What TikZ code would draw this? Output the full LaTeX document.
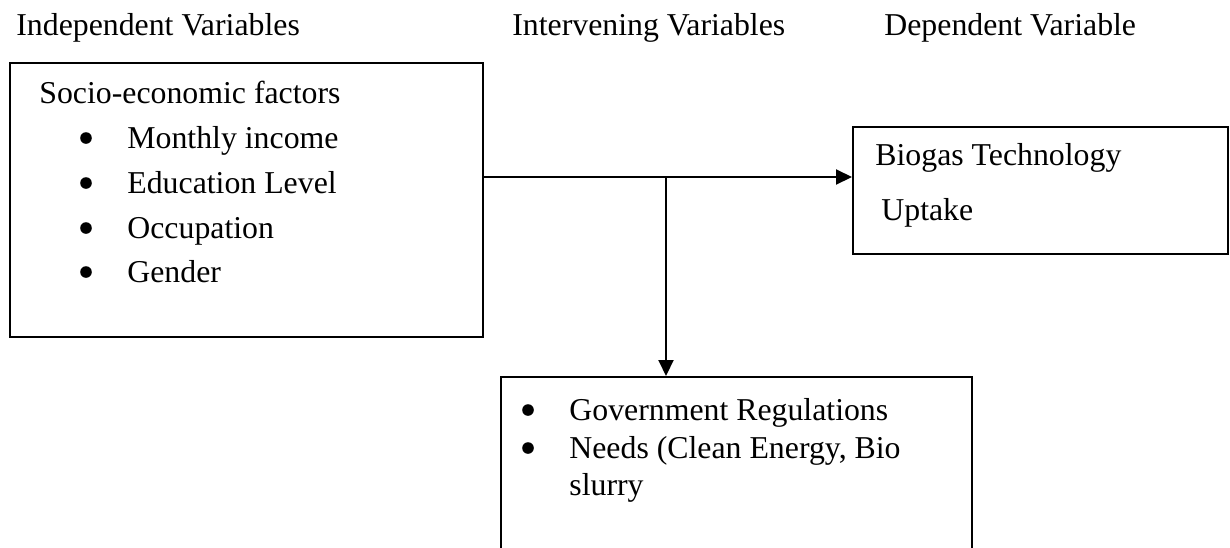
\documentclass[tikz,border=0pt]{standalone}
\usepackage{fontspec}
\setmainfont{Liberation Serif}
\usetikzlibrary{arrows.meta}
\begin{document}
\begin{tikzpicture}[x=0.5pt,y=-0.5pt,
  txt/.style={anchor=base west,inner sep=0pt,font=\fontsize{15.9}{19}\selectfont},
  boxed/.style={draw,line width=1pt,rectangle,inner sep=0pt},
  bul/.style={circle,fill,inner sep=0pt,minimum size=5.8pt},
  conn/.style={line width=1pt,-{Triangle[length=8pt,width=7.5pt]}}]
\useasboundingbox (0,0) rectangle (1230,547);
\clip (0,0) rectangle (1230,547);
% headers
\node[txt] (h1) at (16,35) {Independent Variables};
\node[txt] (h2) at (512,35) {Intervening Variables};
\node[txt] (h3) at (884,35) {Dependent Variable};
% box 1
\node[boxed,minimum width=236.5pt,minimum height=137pt] (box1) at (246.5,200) {};
\node[txt] (t10) at (39,103) {Socio-economic factors};
\node[bul] (b11) at (86,138) {};
\node[txt] (t11) at (127,148) {Monthly income};
\node[bul] (b12) at (86,183) {};
\node[txt] (t12) at (127,193) {Education Level};
\node[bul] (b13) at (86,228) {};
\node[txt] (t13) at (127,238) {Occupation};
\node[bul] (b14) at (86,272) {};
\node[txt] (t14) at (127,282) {Gender};
% box 2
\node[boxed,minimum width=187.5pt,minimum height=63.5pt] (box2) at (1040.5,190.5) {};
\node[txt] (t21) at (875,165) {Biogas Technology};
\node[txt] (t22) at (881,220) {Uptake};
% box 3
\node[boxed,minimum width=235.5pt,minimum height=100pt] (box3) at (736.5,477) {};
\node[bul] (b31) at (528,410) {};
\node[txt] (t31) at (569,420) {Government Regulations};
\node[bul] (b32) at (528,448) {};
\node[txt] (t32) at (569,458) {Needs (Clean Energy, Bio};
\node[txt] (t33) at (569,495) {slurry};
% connectors
\coordinate (j) at (666,177);
\draw[line width=1pt] (box1.east |- j) -- (j);
\draw[conn] (j) -- (box2.west |- j);
\draw[conn] (j) -- (box3.north -| j);
\end{tikzpicture}
\end{document}
